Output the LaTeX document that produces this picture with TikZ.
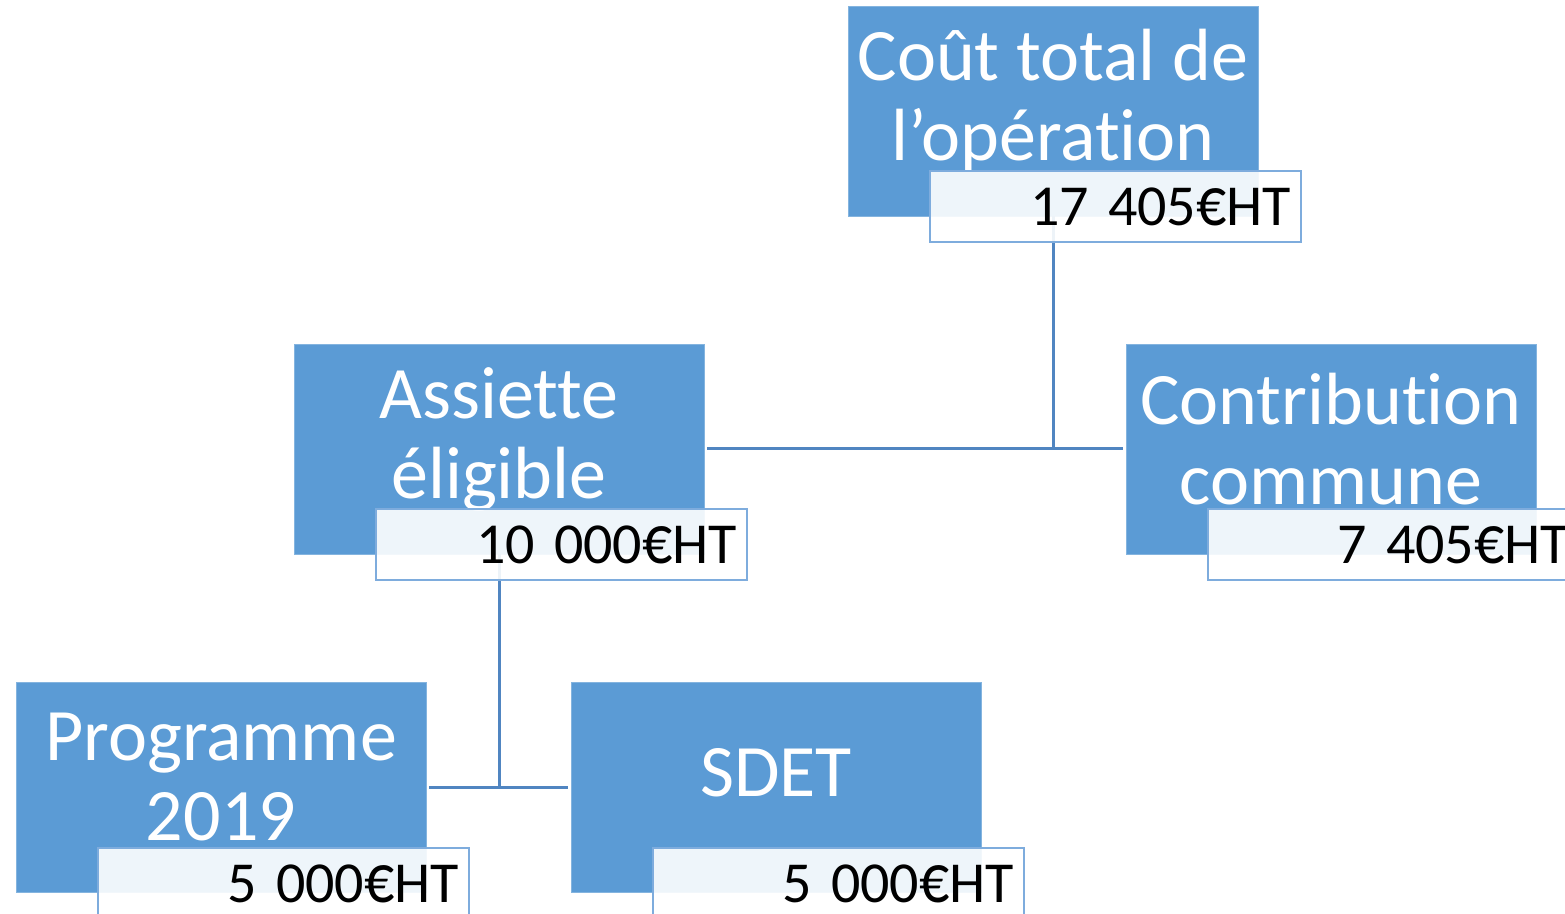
\documentclass[tikz,border=0pt]{standalone}
\usepackage{fontspec}
\setmainfont{Carlito}[Ligatures=NoCommon]
\usepackage{tikz}
\usetikzlibrary{positioning,calc}
\definecolor{boxblue}{HTML}{5B9BD5}
\definecolor{linkblue}{HTML}{5085C1}
\definecolor{tagline}{HTML}{7EACDD}
\newcommand{\eur}{\scalebox{1.03}[1.2]{€}}

\begin{document}
\begin{tikzpicture}[
  x=0.5pt, y=-0.5pt,
  box/.style={fill=boxblue, draw=boxblue!75!white, line width=0.4pt, minimum width=205pt, minimum height=105pt, inner sep=0pt},
  title/.style={text=white, align=center, inner sep=0pt, font=\fontsize{37}{40}\selectfont},
  tag/.style={fill=white, fill opacity=0.9, text opacity=1, draw=tagline, line width=1pt, minimum height=35.5pt, text width=175.5pt, inner xsep=5pt, inner ysep=0pt, align=right, font=\fontsize{29}{32}\selectfont},
  link/.style={draw=linkblue, line width=1.5pt}
]
\useasboundingbox (0,0) rectangle (1565,914);

% blue boxes
\node[box] (cout) at (1053,111) {};
\node[box] (assiette) at (499,449) {};
\node[box] (contrib) at (1331,449) {};
\node[box] (prog) at (221,787) {};
\node[box] (sdet) at (776,787) {};

\node[title] (coutText) at ([yshift=5pt]cout.center) {Coût total de\\l’opération};
\node[title] (assietteText) at ([yshift=5pt]assiette.center) {Assiette\\éligible};
\node[title] (contribText) at ([yshift=5pt]contrib.center) {Contribution\\commune};
\node[title] (progText) at ([yshift=5pt]prog.center) {Programme\\2019};
\node[title] (sdetText) at ([yshift=7pt]sdet.center) {SDET};

% connectors (under the amount tags)
\draw[link] (cout.south) -- (cout.south |- assiette.east) coordinate (topJoin);
\draw[link] ([xshift=1.5pt]assiette.east) -- ([xshift=-1.5pt]contrib.west);
\draw[link] (assiette.south) -- (assiette.south |- prog.east) coordinate (lowJoin);
\draw[link] ([xshift=1.5pt]prog.east) -- ([xshift=-1.5pt]sdet.west);

% amount tags
\node[tag] (coutTag) at ($(cout.center)+(62.5,95.5)$) {17 405\eur HT};
\node[tag] (assietteTag) at ($(assiette.center)+(62.5,95.5)$) {10 000\eur HT};
\node[tag] (contribTag) at ($(contrib.center)+(62.5,95.5)$) {7 405\eur HT};
\node[tag] (progTag) at ($(prog.center)+(62.5,96.5)$) {5 000\eur HT};
\node[tag] (sdetTag) at ($(sdet.center)+(62.5,96.5)$) {5 000\eur HT};
\end{tikzpicture}
\end{document}
